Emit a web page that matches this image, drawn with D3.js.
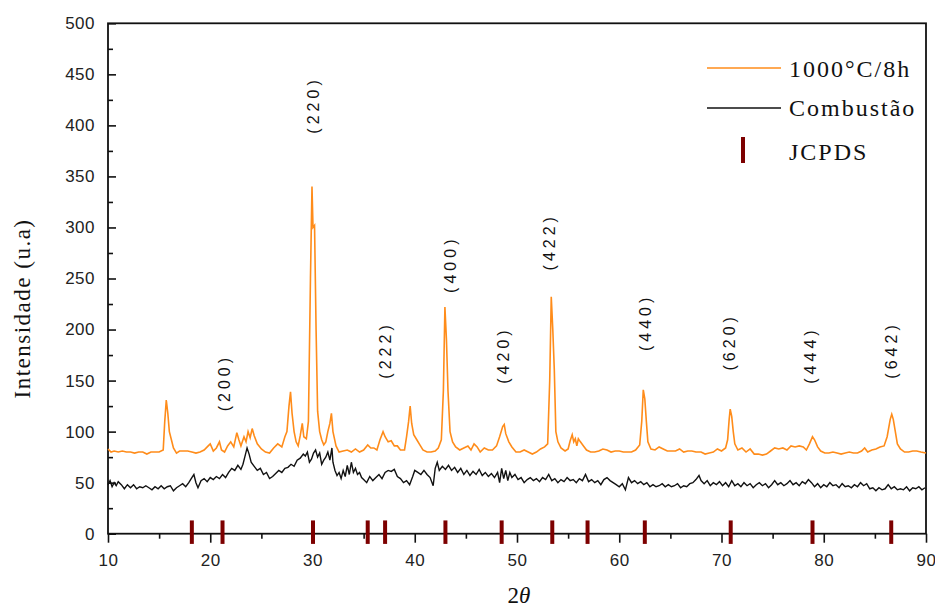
<!DOCTYPE html>
<html>
<head>
<meta charset="utf-8">
<style>
  body { margin: 0; background: #fff; }
  .tick text { font: 17px "Liberation Sans", Arial, sans-serif; fill: #222; letter-spacing: 0.5px; }
  .hkl { font: 16px "Liberation Sans", Arial, sans-serif; letter-spacing: 4px; fill: #111; }
  .serif { font-family: "Liberation Serif", "Times New Roman", serif; fill: #111; }
</style>
</head>
<body>
<div id="chart-area"></div>

<script src="https://cdnjs.cloudflare.com/ajax/libs/d3/7.8.5/d3.min.js"></script>
<script>
// 1000°C/8h sample, [2theta, intensity]
const calcined = [
  [10.0,83],[10.3,80],[10.6,81],[11.0,80],[11.4,81],[11.8,80],[12.2,80],[12.6,79],[13.0,80],[13.4,80],
  [13.8,78],[14.2,80],[14.6,80],[15.0,80],[15.4,82],[15.55,110],[15.7,131],[15.85,118],[16.0,100],[16.2,92],
  [16.4,84],[16.7,79],[17.0,81],[17.4,81],[17.8,81],[18.2,80],[18.6,79],[19.0,80],[19.4,82],[19.8,86],
  [20.0,88],[20.3,81],[20.6,84],[20.9,90],[21.1,82],[21.4,80],[21.7,86],[22.0,90],[22.3,85],[22.6,99],
  [22.8,92],[23.0,86],[23.3,95],[23.5,90],[23.7,100],[23.9,94],[24.1,103],[24.3,96],[24.6,88],[25.0,83],
  [25.4,80],[25.8,79],[26.2,84],[26.6,88],[27.0,85],[27.3,95],[27.5,100],[27.7,125],[27.85,139],[28.0,118],
  [28.2,100],[28.4,90],[28.6,86],[28.8,96],[29.0,108],[29.15,95],[29.4,93],[29.6,110],[29.8,250],[29.95,340],
  [30.05,300],[30.2,302],[30.35,200],[30.5,120],[30.7,100],[30.9,92],[31.1,87],[31.3,90],[31.5,100],[31.7,108],
  [31.85,118],[32.0,100],[32.3,86],[32.6,80],[33.0,81],[33.4,82],[33.8,80],[34.2,83],[34.6,80],[35.0,82],
  [35.4,87],[35.7,84],[36.0,84],[36.3,82],[36.6,92],[36.9,100],[37.1,95],[37.4,90],[37.7,91],[38.0,86],
  [38.3,86],[38.6,82],[39.0,82],[39.2,95],[39.4,110],[39.55,125],[39.7,108],[39.9,97],[40.2,92],[40.5,87],
  [40.8,82],[41.2,80],[41.6,80],[42.0,81],[42.3,84],[42.6,92],[42.8,140],[42.95,222],[43.1,190],[43.25,140],
  [43.45,100],[43.7,90],[44.0,85],[44.4,82],[44.8,84],[45.2,86],[45.5,82],[45.8,88],[46.1,85],[46.4,80],
  [46.8,84],[47.2,82],[47.6,82],[48.0,86],[48.3,95],[48.6,105],[48.75,107],[48.9,98],[49.2,90],[49.5,85],
  [49.9,80],[50.3,80],[50.7,82],[51.1,80],[51.5,78],[51.9,80],[52.3,83],[52.7,85],[53.0,88],[53.2,150],
  [53.35,232],[53.5,200],[53.65,160],[53.8,100],[54.0,90],[54.3,84],[54.7,81],[55.0,83],[55.2,91],[55.4,97],
  [55.55,90],[55.7,93],[55.85,86],[56.0,93],[56.2,90],[56.5,86],[56.8,82],[57.2,80],[57.6,80],[58.0,81],
  [58.4,83],[58.8,82],[59.2,80],[59.6,81],[60.0,81],[60.4,80],[60.8,80],[61.2,80],[61.6,82],[62.0,87],
  [62.2,110],[62.35,141],[62.5,132],[62.65,110],[62.8,90],[63.1,83],[63.5,82],[63.9,85],[64.3,83],[64.7,81],
  [65.1,81],[65.5,81],[65.9,83],[66.3,80],[66.7,81],[67.1,81],[67.5,80],[68.0,80],[68.4,78],[68.8,79],
  [69.2,80],[69.6,83],[70.0,81],[70.4,84],[70.6,92],[70.75,112],[70.85,122],[71.0,115],[71.15,100],[71.3,88],
  [71.6,82],[72.0,84],[72.4,80],[72.8,83],[73.2,78],[73.6,78],[74.0,77],[74.4,78],[74.8,81],[75.2,84],
  [75.6,83],[76.0,84],[76.4,82],[76.8,86],[77.2,85],[77.6,86],[78.0,85],[78.3,82],[78.6,88],[78.9,95],
  [79.1,92],[79.4,85],[79.7,81],[80.1,79],[80.5,79],[80.9,80],[81.3,79],[81.7,78],[82.1,79],[82.5,80],
  [82.9,79],[83.3,79],[83.7,81],[84.0,84],[84.3,80],[84.7,82],[85.1,83],[85.5,85],[85.9,86],[86.2,95],
  [86.5,112],[86.65,117],[86.8,112],[87.0,100],[87.2,88],[87.5,83],[87.9,80],[88.3,80],[88.7,81],[89.1,81],
  [89.5,80],[90.0,79]
];

// as-synthesised (combustion) sample
const combustion = [
  [10.0,48],[10.2,52],[10.4,46],[10.6,50],[10.8,47],[11.0,51],[11.3,48],[11.6,44],[11.9,48],[12.2,45],
  [12.5,48],[12.8,44],[13.1,46],[13.4,45],[13.7,47],[14.0,45],[14.3,43],[14.6,46],[14.9,44],[15.2,47],
  [15.5,44],[15.8,46],[16.1,47],[16.4,42],[16.7,45],[17.0,47],[17.3,49],[17.6,46],[17.9,50],[18.2,55],
  [18.4,58],[18.6,50],[18.8,45],[19.1,52],[19.4,54],[19.7,51],[20.0,55],[20.3,53],[20.6,56],[20.9,54],
  [21.2,58],[21.5,55],[21.8,60],[22.1,64],[22.4,62],[22.7,67],[23.0,63],[23.2,68],[23.4,76],[23.6,84],
  [23.8,78],[24.0,70],[24.3,66],[24.6,62],[24.9,64],[25.2,58],[25.5,60],[25.8,54],[26.1,56],[26.4,59],
  [26.7,62],[27.0,60],[27.3,64],[27.6,65],[27.9,68],[28.2,66],[28.5,72],[28.8,74],[29.1,78],[29.3,76],
  [29.5,80],[29.7,70],[29.9,73],[30.1,79],[30.3,82],[30.5,75],[30.7,79],[30.9,68],[31.1,72],[31.3,75],
  [31.5,80],[31.7,72],[31.9,84],[32.0,70],[32.2,62],[32.4,57],[32.6,60],[32.8,54],[33.0,62],[33.2,56],
  [33.4,67],[33.6,58],[33.8,70],[34.0,60],[34.2,64],[34.4,58],[34.6,60],[34.8,55],[35.0,53],[35.3,50],
  [35.6,56],[35.9,52],[36.2,55],[36.5,58],[36.8,54],[37.1,60],[37.4,62],[37.7,61],[38.0,63],[38.3,56],
  [38.6,54],[38.9,50],[39.2,52],[39.5,48],[39.8,56],[40.0,62],[40.3,60],[40.6,58],[40.9,62],[41.2,58],
  [41.5,55],[41.8,47],[42.0,64],[42.2,70],[42.4,62],[42.7,66],[43.0,63],[43.3,67],[43.6,62],[43.9,65],
  [44.2,60],[44.5,64],[44.8,58],[45.1,62],[45.4,57],[45.7,61],[46.0,58],[46.3,63],[46.6,57],[46.9,60],
  [47.2,56],[47.5,59],[47.8,55],[48.1,60],[48.3,50],[48.5,64],[48.7,54],[48.9,62],[49.1,52],[49.3,60],
  [49.5,55],[49.8,58],[50.1,53],[50.4,55],[50.7,50],[51.0,53],[51.3,55],[51.6,52],[51.9,54],[52.2,51],
  [52.5,55],[52.8,53],[53.1,58],[53.4,52],[53.7,54],[54.0,50],[54.3,53],[54.6,51],[54.9,55],[55.2,52],
  [55.5,53],[55.8,50],[56.1,54],[56.4,52],[56.7,58],[57.0,51],[57.3,53],[57.6,50],[57.9,52],[58.2,48],
  [58.5,53],[58.8,55],[59.1,52],[59.4,50],[59.7,48],[60.0,46],[60.3,49],[60.6,43],[60.9,55],[61.2,50],
  [61.5,52],[61.8,49],[62.1,51],[62.4,48],[62.7,50],[63.0,46],[63.3,48],[63.6,46],[63.9,47],[64.2,49],
  [64.5,46],[64.8,48],[65.1,46],[65.4,47],[65.7,49],[66.0,45],[66.3,47],[66.6,46],[66.9,49],[67.2,50],
  [67.5,53],[67.8,57],[68.0,52],[68.3,49],[68.6,52],[68.9,47],[69.2,50],[69.5,48],[69.8,51],[70.1,47],
  [70.4,50],[70.7,46],[71.0,52],[71.3,47],[71.6,49],[71.9,46],[72.2,50],[72.5,47],[72.8,49],[73.1,45],
  [73.4,48],[73.7,50],[74.0,47],[74.3,49],[74.6,45],[74.9,48],[75.2,52],[75.5,48],[75.8,50],[76.1,47],
  [76.4,49],[76.7,52],[77.0,48],[77.3,50],[77.6,47],[77.9,51],[78.2,49],[78.5,53],[78.8,50],[79.1,46],
  [79.4,49],[79.7,45],[80.0,48],[80.3,46],[80.6,50],[80.9,47],[81.2,48],[81.5,45],[81.8,49],[82.1,46],
  [82.4,47],[82.7,45],[83.0,48],[83.3,46],[83.6,50],[83.9,47],[84.2,49],[84.5,44],[84.8,45],[85.1,42],
  [85.4,45],[85.7,43],[86.0,44],[86.3,48],[86.6,44],[86.9,46],[87.2,43],[87.5,44],[87.8,43],[88.1,46],
  [88.4,42],[88.7,45],[89.0,44],[89.3,46],[89.6,43],[89.9,45]
];

// JCPDS reference line positions (2theta)
const jcpdsTheta = [18.2, 21.2, 30.05, 35.4, 37.1, 43.0, 48.5, 53.45, 56.9, 62.5, 70.9, 78.9, 86.6];

// hkl annotations
const hklLabels = ["(200)", "(220)", "(222)", "(400)", "(420)", "(422)", "(440)", "(620)", "(444)", "(642)"];
const hklTheta  = [21.35, 30.05, 37.1, 43.45, 48.6, 53.1, 62.5, 70.7, 78.65, 86.6];
const hklInt    = [148, 420, 180, 264, 175, 286, 207, 188, 175, 180];

const xMajor = [10, 20, 30, 40, 50, 60, 70, 80, 90];
const xMinor = [15, 25, 35, 45, 55, 65, 75, 85];
const yMajor = [0, 50, 100, 150, 200, 250, 300, 350, 400, 450, 500];
const yMinor = [25, 75, 125, 175, 225, 275, 325, 375, 425, 475];

const W = 935, H = 608;
const plotL = 108, plotR = 926, plotT = 23.3, plotB = 533.7;

const svg = d3.select("#chart-area").append("svg")
    .attr("width", W)
    .attr("height", H);

const x = d3.scaleLinear().domain([10, 90]).range([plotL, plotR]);
const y = d3.scaleLinear().domain([0, 500]).range([plotB, plotT]);

// axes
svg.append("g").attr("transform", `translate(0,${plotB})`)
    .call(d3.axisBottom(x).tickValues(xMajor).tickSize(9).tickPadding(11));
svg.append("g").attr("transform", `translate(0,${plotB})`)
    .call(d3.axisBottom(x).tickValues(xMinor).tickSize(5).tickFormat(""));
svg.append("g").attr("transform", `translate(${plotL},0)`)
    .call(d3.axisLeft(y).tickValues(yMajor).tickSize(-8).tickPadding(13));
svg.append("g").attr("transform", `translate(${plotL},0)`)
    .call(d3.axisLeft(y).tickValues(yMinor).tickSize(-5).tickFormat(""));
svg.selectAll(".domain").remove();
svg.selectAll(".tick line").attr("stroke", "#111").attr("stroke-width", 1.6);

// frame
svg.append("rect")
    .attr("x", plotL).attr("y", plotT)
    .attr("width", plotR - plotL).attr("height", plotB - plotT)
    .attr("fill", "none").attr("stroke", "#111").attr("stroke-width", 1.8);

const line = d3.line().x(d => x(d[0])).y(d => y(d[1]));

svg.append("path").datum(combustion)
    .attr("d", line).attr("fill", "none")
    .attr("stroke", "#111").attr("stroke-width", 1.4);

svg.append("path").datum(calcined)
    .attr("d", line).attr("fill", "none")
    .attr("stroke", "#ff8c1a").attr("stroke-width", 1.6);

// JCPDS marks
svg.selectAll(".jcpds").data(jcpdsTheta).enter().append("line")
    .attr("class", "jcpds")
    .attr("x1", d => x(d)).attr("x2", d => x(d))
    .attr("y1", y(13)).attr("y2", y(-10))
    .attr("stroke", "#7d0000").attr("stroke-width", 4);

// hkl labels
svg.selectAll(".hkl").data(hklLabels).enter().append("text")
    .attr("class", "hkl")
    .attr("transform", (d, i) => `translate(${x(hklTheta[i]) + 6},${y(hklInt[i])}) rotate(-90)`)
    .attr("text-anchor", "middle")
    .text(d => d);

// axis titles
svg.append("text").attr("class", "serif")
    .attr("transform", `translate(30,${(plotT + plotB) / 2 + 30}) rotate(-90)`)
    .attr("text-anchor", "middle")
    .style("font-size", "23px").style("letter-spacing", "1.5px")
    .text("Intensidade (u.a)");

const xt = svg.append("text").attr("class", "serif")
    .attr("x", (plotL + plotR) / 2 + 2).attr("y", 603)
    .attr("text-anchor", "middle")
    .style("font-size", "23px").style("font-style", "italic");
xt.append("tspan").style("font-style", "normal").text("2");
xt.append("tspan").text("θ");

// legend
const legend = svg.append("g");
legend.append("line").attr("x1", 707).attr("x2", 781).attr("y1", 68).attr("y2", 68)
    .attr("stroke", "#ff8c1a").attr("stroke-width", 1.6);
legend.append("line").attr("x1", 707).attr("x2", 781).attr("y1", 108).attr("y2", 108)
    .attr("stroke", "#111").attr("stroke-width", 1.4);
legend.append("line").attr("x1", 743).attr("x2", 743).attr("y1", 137).attr("y2", 163)
    .attr("stroke", "#7d0000").attr("stroke-width", 4);
const legText = ["1000°C/8h", "Combustão", "JCPDS"];
const legY = [77, 116, 160];
legend.selectAll(".lt").data(legText).enter().append("text")
    .attr("class", "serif lt")
    .attr("x", 789).attr("y", (d, i) => legY[i])
    .style("font-size", "24px").style("letter-spacing", "2px")
    .text(d => d);
</script>
</body>
</html>
